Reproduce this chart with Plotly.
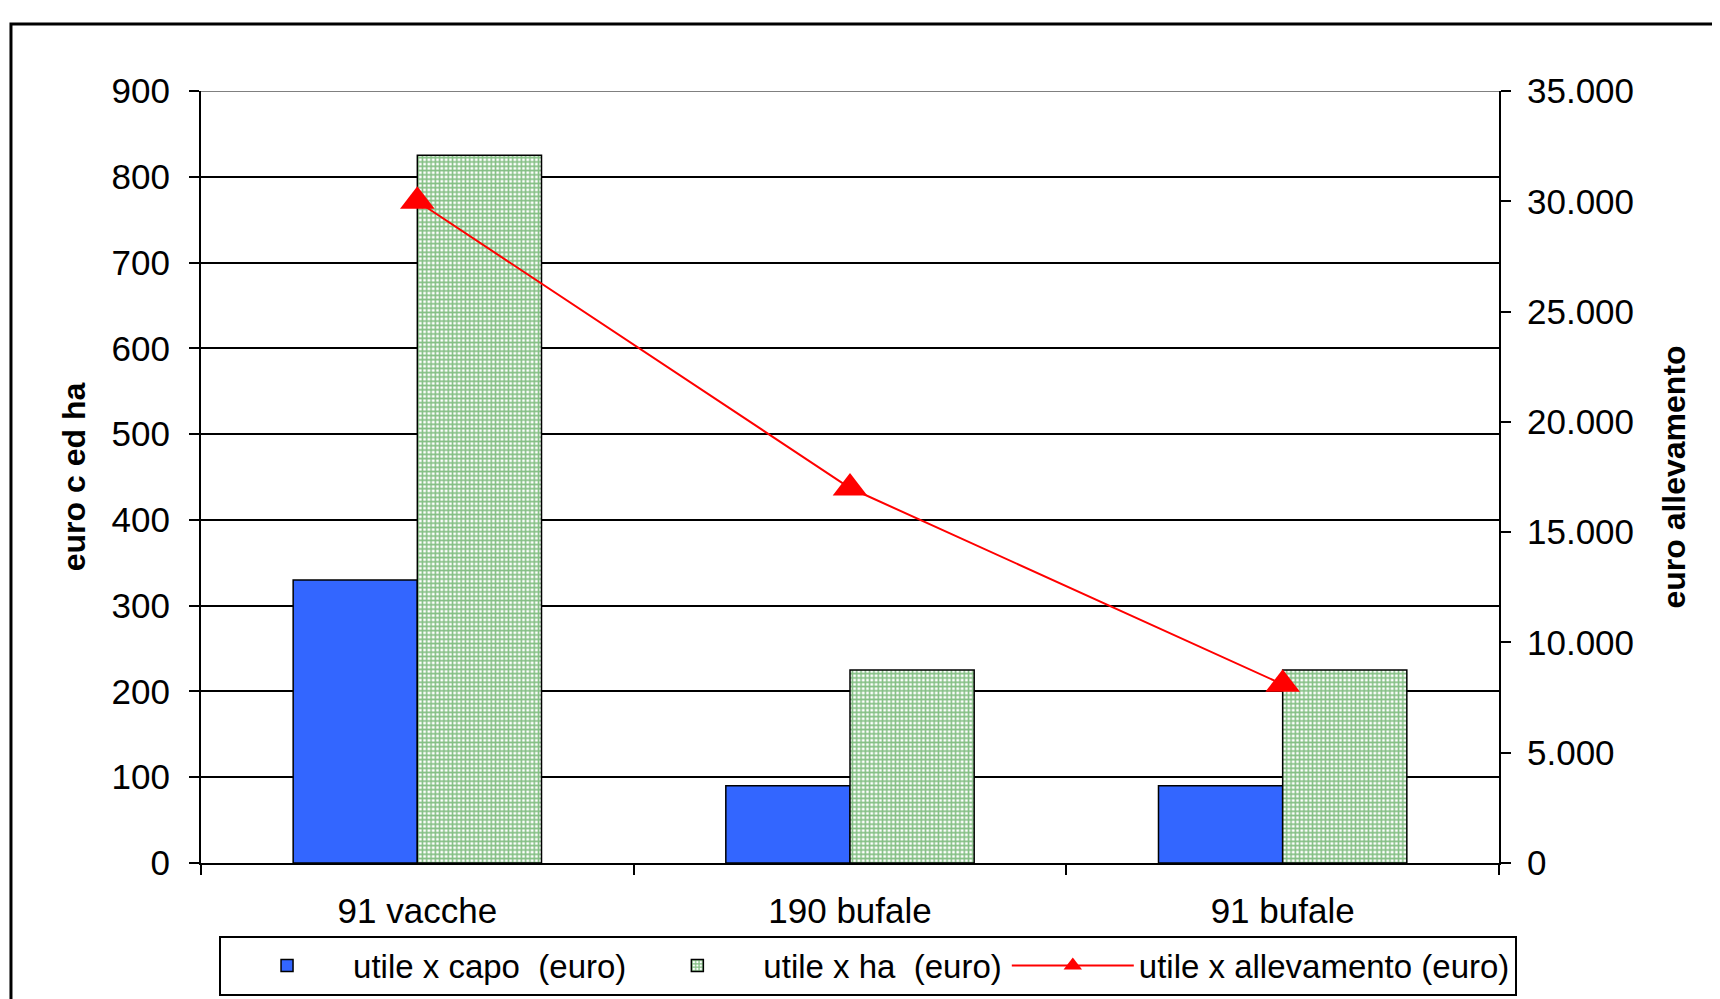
import plotly.graph_objects as go

# values
categories = ["91 vacche", "190 bufale", "91 bufale"]
utile_capo = [330, 90, 90]
utile_ha = [825, 225, 225]
utile_allevamento = [30000, 17000, 8100]
left_ticks = list(range(0, 901, 100))
right_ticks = list(range(0, 35001, 5000))

FONT = "Liberation Sans, Arial, sans-serif"
TXT = 35

fig = go.Figure()
fig.add_trace(go.Bar(
    x=categories, y=utile_capo, name="utile x capo\u00a0 (euro)",
    marker=dict(color="#3366FF", line=dict(color="black", width=1.5)),
))
fig.add_trace(go.Bar(
    x=categories, y=utile_ha, name="utile x ha\u00a0 (euro)",
    marker=dict(color="white", line=dict(color="black", width=1.5),
                pattern=dict(shape="+", fgcolor="#0a800a", bgcolor="white",
                             size=4.3, solidity=0.6)),
))
fig.add_trace(go.Scatter(
    x=categories, y=utile_allevamento, name="utile x allevamento (euro)",
    yaxis="y2", mode="lines+markers",
    line=dict(color="#FF0000", width=2),
    marker=dict(symbol="triangle-up", size=30, color="#FF0000"),
))

fig.update_layout(
    width=1720, height=999,
    # page body adds an 8px offset, compensated here
    margin=dict(l=193, r=229, t=83, b=144, autoexpand=False),
    paper_bgcolor="white", plot_bgcolor="white",
    font=dict(family=FONT, size=TXT, color="black"),
    separators=",.",
    barmode="group", bargap=0.426, bargroupgap=0,
    xaxis=dict(
        showline=True, linecolor="black", linewidth=2,
        ticks="outside", tickson="boundaries", ticklen=10, tickwidth=2,
        tickcolor="black", showgrid=False, ticklabelstandoff=16,
    ),
    yaxis=dict(
        range=[0, 900], tickvals=left_ticks,
        showgrid=True, gridcolor="black", gridwidth=2, zeroline=False,
        showline=True, linecolor="black", linewidth=2,
        ticks="outside", ticklen=10, tickwidth=2, tickcolor="black",
        ticklabelstandoff=12,
        title=dict(text="<b>euro c ed ha</b>", font=dict(size=32), standoff=16),
    ),
    yaxis2=dict(
        overlaying="y", side="right", range=[0, 35000], tickvals=right_ticks,
        tickformat=",", showgrid=False, zeroline=False,
        showline=True, linecolor="black", linewidth=2,
        ticks="outside", ticklen=10, tickwidth=2, tickcolor="black",
        ticklabelstandoff=9,
        title=dict(text="<b>euro allevamento</b>", font=dict(size=32), standoff=30),
    ),
    # inside halves of the crossing tick marks
    xaxis2=dict(
        overlaying="x", anchor="y", range=[-0.5, 2.5], tickvals=[0.5, 1.5],
        ticks="inside", ticklen=10, tickwidth=2, tickcolor="black",
        showticklabels=False, showgrid=False, zeroline=False, showline=False,
    ),
    yaxis3=dict(
        overlaying="y", anchor="x", side="right", range=[0, 35000],
        tickvals=right_ticks, ticks="inside", ticklen=10, tickwidth=2,
        tickcolor="black", showticklabels=False, showgrid=False,
        zeroline=False, showline=False,
    ),
    legend=dict(
        orientation="h", x=0.0139, y=-0.094, xanchor="left", yanchor="top",
        bordercolor="black", borderwidth=2, bgcolor="white",
        font=dict(size=33), itemwidth=122, tracegroupgap=0,
    ),
    shapes=[
        dict(type="rect", xref="paper", yref="paper",
             x0=-0.1464, x1=1.5, y0=-0.5, y1=1.0867,
             line=dict(color="black", width=3), layer="below"),
        dict(type="line", xref="paper", yref="y", x0=0, x1=1, y0=900, y1=900,
             line=dict(color="#808080", width=2), layer="above"),
    ],
)

fig.write_html("out.html")
